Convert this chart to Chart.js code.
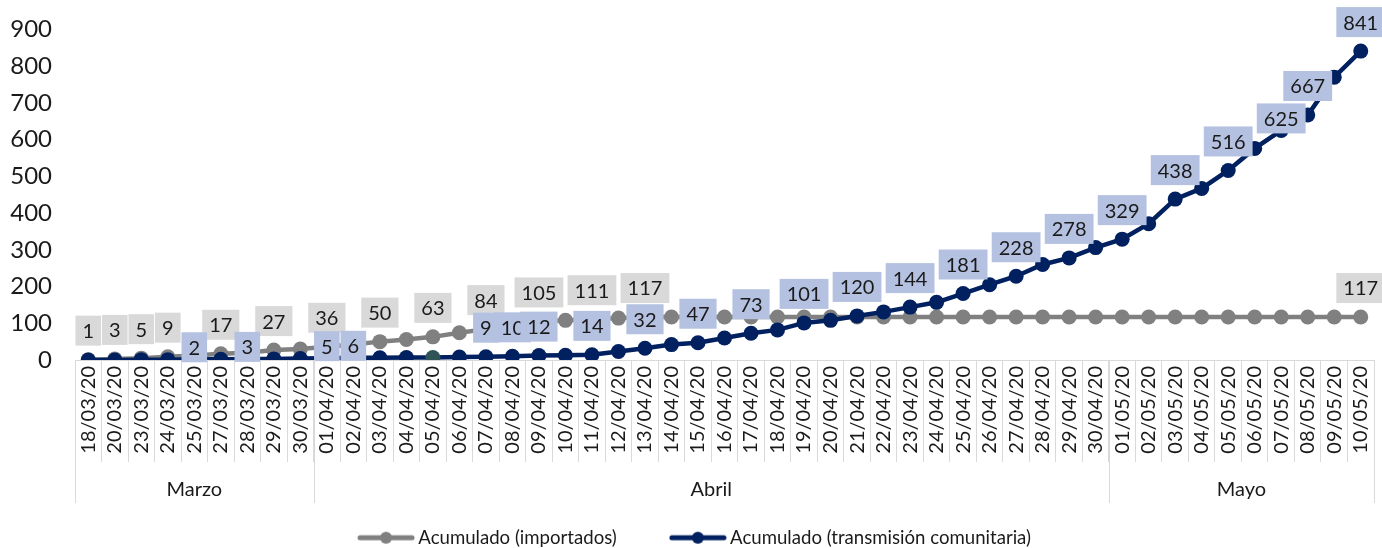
<!DOCTYPE html>
<html>
<head>
<meta charset="utf-8">
<script src="https://cdn.jsdelivr.net/npm/chart.js@4/dist/chart.umd.min.js"></script>
<style>
html,body{margin:0;padding:0;background:#fff;}
#wrap{width:1382px;height:548px;position:relative;}
</style>
</head>
<body>
<div id="wrap"><canvas id="c"></canvas></div>
<script>
const categories = [
  '18/03/20','20/03/20','23/03/20','24/03/20','25/03/20','27/03/20','28/03/20','29/03/20','30/03/20',
  '01/04/20','02/04/20','03/04/20','04/04/20','05/04/20','06/04/20','07/04/20','08/04/20','09/04/20','10/04/20',
  '11/04/20','12/04/20','13/04/20','14/04/20','15/04/20','16/04/20','17/04/20','18/04/20','19/04/20','20/04/20',
  '21/04/20','22/04/20','23/04/20','24/04/20','25/04/20','26/04/20','27/04/20','28/04/20','29/04/20','30/04/20',
  '01/05/20','02/05/20','03/05/20','04/05/20','05/05/20','06/05/20','07/05/20','08/05/20','09/05/20','10/05/20'
];
const importedValues = [
  1,3,5,9,12,17,20,27,30,
  36,42,50,56,63,74,84,95,105,108,
  111,114,117,117,117,117,117,117,117,117,
  117,117,117,117,117,117,117,117,117,117,
  117,117,117,117,117,117,117,117,117,117
];
const communityValues = [
  0,0,1,1,2,2,3,3,4,
  5,6,6,7,7,8,9,10,12,13,
  14,23,32,42,47,60,73,82,101,108,
  120,131,144,157,181,205,228,260,278,306,
  329,371,438,467,516,576,625,667,770,841
];
const importedLabelIndex = [0,1,2,3,5,7,9,11,13,15,17,19,21,48];
const communityLabelIndex = [4,6,9,10,15,16,17,19,21,23,25,27,29,31,33,35,37,39,41,43,45,46,48];
const monthNames = {'03':'Marzo','04':'Abril','05':'Mayo'};
const seriesNames = ['Acumulado (importados)','Acumulado (transmisión comunitaria)'];
const yMin = 0, yMax = 900, yStep = 100;

const FONT = 'Lato, "Open Sans", "DejaVu Sans", sans-serif';
const GRAY = '#808080', NAVY = '#002060', ODD = '#2f5457';
const TEXT = '#1a1a1a', SEP = '#d9d9d9';

function makeLegendIcon(color) {
  const c = document.createElement('canvas');
  c.width = 58; c.height = 14;
  const g = c.getContext('2d');
  g.strokeStyle = color; g.lineWidth = 5; g.lineCap = 'round';
  g.beginPath(); g.moveTo(3, 7); g.lineTo(55, 7); g.stroke();
  g.fillStyle = color;
  g.beginPath(); g.arc(29, 7, 6, 0, Math.PI * 2); g.fill();
  return c;
}
const legendIcons = [makeLegendIcon(GRAY), makeLegendIcon(NAVY)];

const overlay = {
  id: 'overlay',
  afterLayout(chart) {
    if (chart.legend) chart.legend.left = 20;
  },
  afterDatasetsDraw(chart) {
    const ctx = chart.ctx;
    ctx.save();
    ctx.font = '20px ' + FONT;
    ctx.textAlign = 'center';
    ctx.textBaseline = 'middle';
    const H = 30, PADX = 7, UP = 29, LOW = 12;
    const m0 = chart.getDatasetMeta(0), m1 = chart.getDatasetMeta(1);
    const rectFor = (meta, i, vals, up) => {
      const p = meta.data[i];
      const t = String(vals[i]);
      const w = ctx.measureText(t).width + 2 * PADX;
      const cy = p.y - up;
      return {x0: p.x - w / 2, x1: p.x + w / 2, y0: cy - H / 2, y1: cy + H / 2, cx: p.x, cy: cy, t: t, i: i};
    };
    const ov = (a, b) => [Math.min(a.x1, b.x1) - Math.max(a.x0, b.x0), Math.min(a.y1, b.y1) - Math.max(a.y0, b.y0)];
    const imp = importedLabelIndex.map(i => rectFor(m0, i, importedValues, UP));
    let com = communityLabelIndex.map(i => rectFor(m1, i, communityValues, UP));
    com = com.map((r, k) => {
      const hitImp = imp.some(q => { const o = ov(r, q); return o[0] > 0 && o[1] > 5; });
      const nxt = com[k + 1];
      let hitNext = false;
      if (nxt) { const o = ov(r, nxt); hitNext = o[0] > 16 && o[1] > 10; }
      return (hitImp || hitNext) ? rectFor(m1, r.i, communityValues, LOW) : r;
    });
    const draw = (r, fill) => {
      ctx.fillStyle = fill;
      ctx.fillRect(r.x0, r.y0, r.x1 - r.x0, H);
      ctx.fillStyle = TEXT;
      ctx.fillText(r.t, r.cx, r.cy + 1);
    };
    imp.forEach(r => draw(r, '#d9d9d9'));
    com.forEach(r => draw(r, '#b4c1e0'));
    ctx.restore();
  },
  afterDraw(chart) {
    const ctx = chart.ctx;
    const xs = chart.scales.x;
    const groups = [];
    categories.forEach((c, i) => {
      const mm = c.split('/')[1];
      if (!groups.length || groups[groups.length - 1].mm !== mm) groups.push({mm: mm, start: i, end: i});
      else groups[groups.length - 1].end = i;
    });
    const half = (xs.getPixelForValue(1) - xs.getPixelForValue(0)) / 2;
    const top = xs.top, bottom = 503;
    ctx.save();
    ctx.strokeStyle = SEP; ctx.lineWidth = 1;
    ctx.fillStyle = TEXT;
    ctx.font = '20px ' + FONT;
    ctx.textAlign = 'center'; ctx.textBaseline = 'middle';
    groups.forEach(g => {
      const x0 = xs.getPixelForValue(g.start) - half;
      const x1 = xs.getPixelForValue(g.end) + half;
      [x0, x1].forEach(x => {
        const px = Math.round(x) + 0.5;
        ctx.beginPath(); ctx.moveTo(px, top); ctx.lineTo(px, bottom); ctx.stroke();
      });
      ctx.fillText(monthNames[g.mm], (x0 + x1) / 2, 490);
    });
    ctx.restore();
  }
};

const LAYOUT_BOTTOM = -9;
const chart = new Chart(document.getElementById('c'), {
  type: 'line',
  data: {
    labels: categories,
    datasets: [
      {
        label: seriesNames[0],
        data: importedValues,
        borderColor: GRAY, backgroundColor: GRAY,
        pointBackgroundColor: GRAY,
        borderWidth: 4.5, pointRadius: 7.5, pointHoverRadius: 7.5, pointBorderWidth: 0,
        tension: 0, order: 1
      },
      {
        label: seriesNames[1],
        data: communityValues,
        borderColor: NAVY, backgroundColor: NAVY,
        pointBackgroundColor: ctx => (ctx.dataIndex === 13 ? ODD : NAVY),
        borderWidth: 4.5, pointRadius: 7.5, pointHoverRadius: 7.5, pointBorderWidth: 0,
        tension: 0, order: 0
      }
    ]
  },
  options: {
    responsive: true,
    maintainAspectRatio: false,
    animation: false,
    devicePixelRatio: 1,
    layout: { padding: { top: 27, right: 8, left: 0, bottom: LAYOUT_BOTTOM } },
    plugins: {
      tooltip: { enabled: false },
      title: { display: false },
      legend: {
        position: 'bottom',
        labels: {
          usePointStyle: true,
          pointStyleWidth: 46,
          padding: 58,
          color: TEXT,
          font: { size: 18.6, family: FONT },
          generateLabels: ch => ch.data.datasets.map((ds, i) => ({
            text: ds.label,
            pointStyle: legendIcons[i],
            fillStyle: ds.borderColor,
            strokeStyle: ds.borderColor,
            lineWidth: 0,
            fontColor: TEXT,
            hidden: !ch.isDatasetVisible(i),
            datasetIndex: i
          }))
        }
      }
    },
    scales: {
      x: {
        type: 'category',
        offset: true,
        grid: {
          display: true, drawOnChartArea: false, drawTicks: true,
          tickLength: 102, color: SEP, lineWidth: 1, offset: true
        },
        border: { display: true, color: SEP, width: 1 },
        ticks: {
          autoSkip: false, minRotation: 90, maxRotation: 90,
          padding: -96, color: TEXT, font: { size: 20, family: FONT }
        },
        afterFit(scale) {
          const lh = scale.chart.legend ? scale.chart.legend.height : 0;
          scale.height = scale.chart.height - LAYOUT_BOTTOM - lh - 360;
        }
      },
      y: {
        min: yMin, max: yMax,
        grid: { display: false },
        border: { display: false },
        ticks: { stepSize: yStep, padding: 15, color: TEXT, font: { size: 24, family: FONT } },
        afterFit(scale) { scale.width = 75; }
      }
    }
  },
  plugins: [overlay]
});
</script>
</body>
</html>
